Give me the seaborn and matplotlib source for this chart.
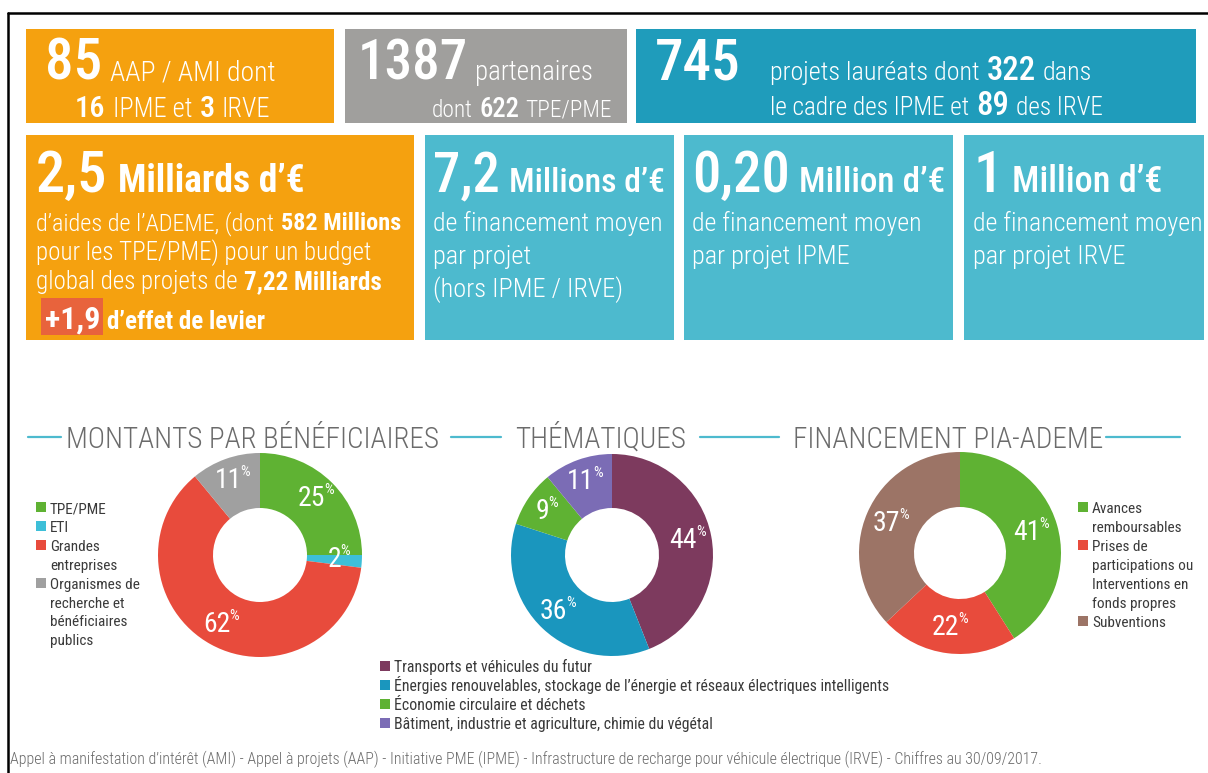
import matplotlib
matplotlib.use("Agg")
import matplotlib.pyplot as plt
import seaborn as sns
import numpy as np
from matplotlib.patches import Rectangle

# données des trois anneaux
benef_labels = ["TPE/PME", "ETI", "Grandes\nentreprises",
                "Organismes de\nrecherche et\nbénéficiaires\npublics"]
benef_pct = [25, 2, 62, 11]
benef_colors = ["#5fb233", "#3dbfd8", "#e84b3c", "#a0a0a0"]

theme_labels = ["Transports et véhicules du futur",
                "Énergies renouvelables, stockage de l\u2019énergie et réseaux électriques intelligents",
                "Économie circulaire et déchets",
                "Bâtiment, industrie et agriculture, chimie du végétal"]
theme_pct = [44, 36, 9, 11]
theme_colors = ["#7d3a5e", "#1a96be", "#5fb233", "#7b6cb5"]

fin_labels = ["Avances\nremboursables",
              "Prises de\nparticipations ou\nInterventions en\nfonds propres",
              "Subventions"]
fin_pct = [41, 22, 37]
fin_colors = ["#5fb233", "#e84b3c", "#9c7466"]

section_titles = ["MONTANTS PAR BÉNÉFICIAIRES", "THÉMATIQUES", "FINANCEMENT PIA-ADEME"]
footer = ("Appel à manifestation d\u2019intérêt (AMI) - Appel à projets (AAP) - Initiative PME (IPME) - "
          "Infrastructure de recharge pour véhicule électrique (IRVE) - Chiffres au 30/09/2017.")

W, H = 1208, 773
ORANGE = "#f5a10f"
GRIS = "#a09f9d"
BLEU = "#1f9cbb"
BLEU_CLAIR = "#4dbace"
ROUGE = "#e8633c"
PX = 100 / 72

sns.set_theme(style="white")
plt.rcParams["font.family"] = ["Roboto Condensed", "Liberation Sans Narrow", "Roboto", "DejaVu Sans"]

fig = plt.figure(figsize=(W / 100, H / 100), dpi=100)
fig.patch.set_facecolor("white")
bg = fig.add_axes([0, 0, 1, 1], zorder=3)
bg.set_xlim(0, W)
bg.set_ylim(H, 0)
bg.axis("off")
rend = fig.canvas.get_renderer()


def ligne(x, y, parts, color="white", fit=None, align="left"):
    # une ligne de texte en plusieurs morceaux (tailles / graisses différentes)
    def build(k):
        ts = [bg.text(x, y, s, fontsize=sz * k, fontweight=wt, color=color,
                      va="baseline", ha="left") for s, sz, wt in parts]
        ws = [t.get_window_extent(rend).width for t in ts]
        gaps = [0.27 * min(a[1], b[1]) * k * PX for a, b in zip(parts[:-1], parts[1:])] + [0]
        return ts, ws, gaps
    ts, ws, gaps = build(1.0)
    tot = sum(ws) + sum(gaps)
    if fit and tot > fit:
        for t in ts:
            t.remove()
        ts, ws, gaps = build(fit / tot)
        tot = sum(ws) + sum(gaps)
    cur = x - tot if align == "right" else x
    for t, w, g in zip(ts, ws, gaps):
        t.set_x(cur)
        cur += w + g
    return ts


def boite(x0, y0, x1, y1, col):
    bg.add_patch(Rectangle((x0, y0), x1 - x0, y1 - y0, color=col, lw=0))


# cadre
bg.plot([8, W], [13, 13], color="black", lw=1.8)
bg.plot([8, 8], [13, H], color="black", lw=1.8)

# ligne 1
boite(26, 29, 334, 123, ORANGE)
boite(345, 29, 627, 123, GRIS)
boite(636, 29, 1196, 123, BLEU)
ligne(45, 80, [("85", 41, "medium"), ("AAP / AMI dont", 20, "light")], fit=232)
ligne(75, 117, [("16", 24, "medium"), ("IPME et", 21, "light"), ("3", 24, "medium"), ("IRVE", 21, "light")], fit=195)
ligne(358, 80, [("1387", 41, "medium"), ("partenaires", 20, "light")], fit=235)
ligne(612, 117, [("dont", 21, "light"), ("622", 24, "medium"), ("TPE/PME", 21, "light")], fit=180, align="right")
ligne(655, 80, [("745", 41, "medium")])
ligne(770, 80, [("projets lauréats dont", 20, "light"), ("322", 25, "medium"), ("dans", 20, "light")], fit=322)
ligne(770, 115, [("le cadre des IPME et", 20, "light"), ("89", 26, "medium"), ("des IRVE", 20, "light")], fit=333)

# ligne 2
boite(26, 135, 414, 340, ORANGE)
boite(425, 135, 674, 340, BLEU_CLAIR)
boite(684, 135, 953, 340, BLEU_CLAIR)
boite(964, 135, 1204, 340, BLEU_CLAIR)

ligne(36, 192, [("2,5", 42, "medium"), ("Milliards d\u2019€", 27, "bold")], fit=285)
ligne(36, 230, [("d\u2019aides de l\u2019ADEME, (dont", 18, "light"), ("582 Millions", 18, "bold")], fit=366)
ligne(36, 260, [("pour les TPE/PME) pour un budget", 18, "light")], fit=366)
ligne(36, 289, [("global des projets de", 18, "light"), ("7,22 Milliards", 18, "bold")], fit=366)
lev = ligne(45, 329, [("+1,9", 23, "bold"), ("d\u2019effet de levier", 18, "bold")])
bb = lev[0].get_window_extent(rend)
boite(bb.x0 - 4, 298, bb.x1 + 3, 335, ROUGE)

moyen = [(433, [("7,2", 42, "medium"), ("Millions d\u2019€", 26, "medium")], 232,
          ["de financement moyen", "par projet", "(hors IPME / IRVE)"]),
         (692, [("0,20", 42, "medium"), ("Million d\u2019€", 26, "medium")], 254,
          ["de financement moyen", "par projet IPME"]),
         (973, [("1", 42, "medium"), ("Million d\u2019€", 26, "medium")], 195,
          ["de financement moyen", "par projet IRVE"])]
for x, titre, fw, lignes in moyen:
    ligne(x, 192, titre, fit=fw)
    for i, s in enumerate(lignes):
        ligne(x, 231 + 33 * i, [(s, 19, "light")], fit=230)

# titres de section
tx = [66, 515, 793]
tw = [374, 180, 324]
ext = []
for s, x, w in zip(section_titles, tx, tw):
    t = ligne(x, 448, [(s, 21, "light")], color="#6b6b6b", fit=w)[0]
    b = t.get_window_extent(rend)
    ext.append((b.x0, b.x1))
segs = [(28, ext[0][0] - 5), (ext[0][1] + 12, ext[1][0] - 14),
        (ext[1][1] + 14, ext[2][0] - 14), (ext[2][1] + 3, 1180)]
for a, b in segs:
    bg.plot([a, b], [437, 437], color=BLEU_CLAIR, lw=1.6)


def donut(cx, cy, r, ri, vals, colors, rl):
    ax = fig.add_axes([(cx - r) / W, 1 - (cy + r) / H, 2 * r / W, 2 * r / H], zorder=1)
    ax.pie(vals, colors=colors, startangle=90, counterclock=False,
           wedgeprops=dict(width=1 - ri / r, linewidth=0))
    ax.set_xlim(-1, 1)
    ax.set_ylim(-1, 1)
    ax.axis("off")
    frac = np.array(vals) / sum(vals)
    mids = np.cumsum(frac) - frac / 2
    for v, m in zip(vals, mids):
        a = np.deg2rad(90 - 360 * m)
        px = cx + rl * r * np.cos(a)
        py = cy - rl * r * np.sin(a)
        t = bg.text(px - 5, py, str(v), fontsize=20, color="white", ha="center", va="center")
        b = t.get_window_extent(rend)
        bg.text(b.x1 - 1, H - b.y1 - 2, "%", fontsize=11, color="white", ha="left", va="top")


def legende(x, y0, step, labels, colors, size, maxw=None):
    k = 1.0
    if maxw:
        longest = 0
        for lab in labels:
            for p in lab.split("\n"):
                t = bg.text(0, 0, p, fontsize=size)
                longest = max(longest, t.get_window_extent(rend).width)
                t.remove()
        k = min(1.0, maxw / longest)
    i = 0
    for lab, col in zip(labels, colors):
        yb = y0 + i * step
        boite(x, yb - 11, x + 10, yb - 1, col)
        for j, p in enumerate(lab.split("\n")):
            bg.text(x + 14, yb + j * step, p, fontsize=size * k, color="#3a3a3a", va="baseline")
        i += len(lab.split("\n"))


donut(260, 555, 102, 47, benef_pct, benef_colors, 0.78)
donut(612, 555, 101, 47, theme_pct, theme_colors, 0.77)
donut(960, 553, 101, 46, fin_pct, fin_colors, 0.74)

legende(36, 513, 18.9, benef_labels, benef_colors, 11, maxw=92)
legende(380, 672, 19, theme_labels, theme_colors, 13, maxw=495)
legende(1078, 513, 19, fin_labels, fin_colors, 11, maxw=112)

ligne(10, 764, [(footer, 12, "light")], color="#6b6b6b", fit=1030)

fig.savefig("out.png", dpi=100)
